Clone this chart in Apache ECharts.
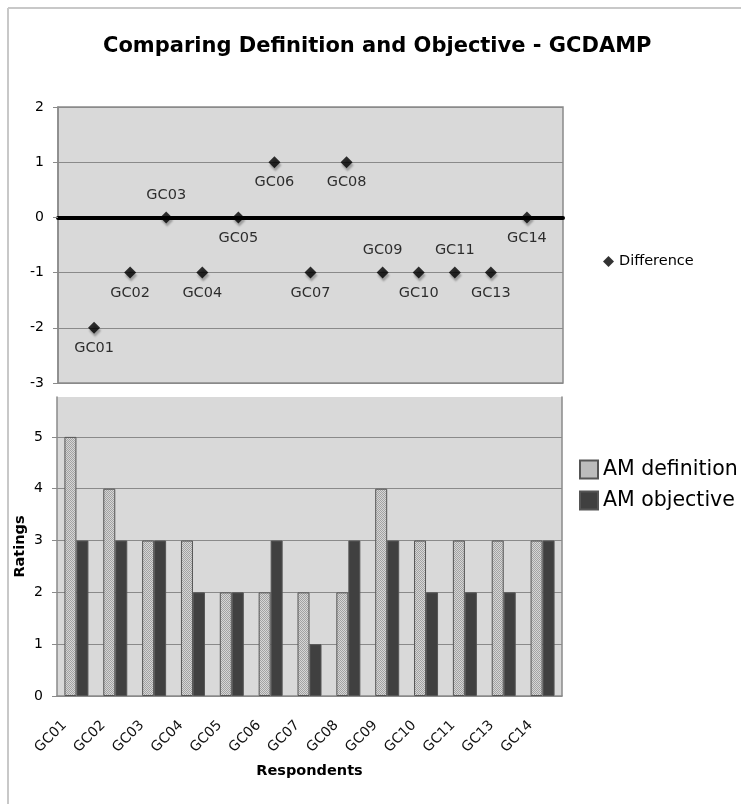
<!DOCTYPE html>
<html><head><meta charset="utf-8">
<script src="https://cdn.jsdelivr.net/npm/echarts@6/dist/echarts.min.js"></script>
<style>html,body{margin:0;padding:0;background:#fff}#c{width:741px;height:804px}</style>
</head><body><div id="c"></div>
<script>
const respondents = ['GC01','GC02','GC03','GC04','GC05','GC06','GC07','GC08','GC09','GC10','GC11','GC13','GC14'];
const difference = [-2,-1,0,-1,0,1,-1,1,-1,-1,-1,-1,0];
const amDefinition = [5,4,3,3,2,2,2,2,4,3,3,3,3];
const amObjective = [3,3,3,2,2,3,1,3,3,2,2,2,3];
const diffTicks = [-3,-2,-1,0,1,2];
const ratingTicks = [0,1,2,3,4,5];
const labelSide = ['bottom','bottom','top','bottom','bottom','bottom','bottom','bottom','top','bottom','top','bottom','bottom'];

const FONT = 'DejaVu Sans';
const GRID_BG = '#d9d9d9';
const LINE = '#8a8a8a';

const pc = document.createElement('canvas'); pc.width = 2; pc.height = 2;
const g = pc.getContext('2d');
g.fillStyle = '#d6d6d6'; g.fillRect(0,0,2,2);
g.fillStyle = '#a2a2a2'; g.fillRect(0,0,1,1); g.fillRect(1,1,1,1);
const stipple = {image: pc, repeat: 'repeat'};

const chart = echarts.init(document.getElementById('c'), null, {renderer: 'canvas'});
chart.setOption({
  backgroundColor: '#fff',
  animation: false,
  textStyle: {fontFamily: FONT, color: '#000'},
  title: {
    text: 'Comparing Definition and Objective - GCDAMP',
    left: 98, top: 31,
    textStyle: {fontFamily: FONT, fontWeight: 'bold', fontSize: 21, color: '#000'}
  },
  graphic: [{
    type: 'line', silent: true, z: -1,
    shape: {x1: 8, y1: 8, x2: 741, y2: 8},
    style: {stroke: '#c8c8c8', lineWidth: 2}
  }, {
    type: 'line', silent: true, z: -1,
    shape: {x1: 8, y1: 8, x2: 8, y2: 804},
    style: {stroke: '#c8c8c8', lineWidth: 2}
  }],
  legend: [{
    data: ['Difference'],
    left: 598, top: 249,
    icon: 'diamond', itemWidth: 11, itemHeight: 11,
    textStyle: {fontFamily: FONT, fontSize: 14.5, color: '#000'}
  }, {
    data: ['AM definition', 'AM objective'],
    orient: 'vertical',
    left: 574, top: 454,
    icon: 'rect',
    itemWidth: 18, itemHeight: 18, itemGap: 10,
    textStyle: {fontFamily: FONT, fontSize: 20.5, color: '#000'}
  }],
  grid: [
    {left: 58, top: 107, width: 505, height: 276, show: true, backgroundColor: GRID_BG, borderColor: LINE, borderWidth: 1.5},
    {left: 57, top: 397, width: 505, height: 299, show: true, backgroundColor: GRID_BG, borderWidth: 0}
  ],
  xAxis: [{
    type: 'value', gridIndex: 0, min: 0, max: 14,
    axisLine: {show: true, onZero: true, lineStyle: {color: '#000', width: 4}},
    axisTick: {show: false}, axisLabel: {show: false}, splitLine: {show: false}
  }, {
    type: 'category', gridIndex: 1, data: respondents, boundaryGap: true,
    axisLine: {lineStyle: {color: LINE, width: 1.5}},
    axisTick: {length: 5, lineStyle: {color: LINE}},
    axisLabel: {rotate: 45, fontSize: 14, color: '#111', margin: 15, padding: [0, 17, 0, 0], fontFamily: FONT, interval: 0},
    name: 'Respondents', nameLocation: 'middle', nameGap: 68, nameMoveOverlap: false,
    nameTextStyle: {fontFamily: FONT, fontWeight: 'bold', fontSize: 14.5, color: '#000'}
  }],
  yAxis: [{
    type: 'value', gridIndex: 0, min: -3, max: 2, interval: 1,
    axisLine: {show: true, lineStyle: {color: LINE, width: 1.5}},
    axisTick: {show: true, length: 5, lineStyle: {color: LINE}},
    axisLabel: {fontSize: 14, color: '#000', margin: 14, fontFamily: FONT},
    splitLine: {show: true, lineStyle: {color: LINE, width: 1}}
  }, {
    type: 'value', gridIndex: 1, min: 0, max: 5.77, interval: 1,
    axisLine: {show: true, lineStyle: {color: LINE, width: 1.5}},
    axisTick: {show: true, length: 5, lineStyle: {color: LINE}, customValues: ratingTicks},
    axisLabel: {fontSize: 14, color: '#000', margin: 14, fontFamily: FONT, customValues: ratingTicks},
    splitLine: {show: true, lineStyle: {color: LINE, width: 1}},
    name: 'Ratings', nameLocation: 'middle', nameGap: 29, nameRotate: 90, nameMoveOverlap: false,
    nameTextStyle: {fontFamily: FONT, fontWeight: 'bold', fontSize: 14.5, color: '#000'}
  }, {
    type: 'value', gridIndex: 1, min: 0, max: 5.77, position: 'right',
    axisLine: {show: true, lineStyle: {color: LINE, width: 1.5}},
    axisTick: {show: false}, axisLabel: {show: false}, splitLine: {show: false}
  }],
  series: [{
    name: 'Difference', type: 'scatter', xAxisIndex: 0, yAxisIndex: 0,
    symbol: 'diamond', symbolSize: 12,
    itemStyle: {color: '#000', shadowColor: 'rgba(0,0,0,0.35)', shadowOffsetX: 1, shadowOffsetY: 3, shadowBlur: 2},
    data: difference.map((v, i) => ({
      value: [i + 1, v],
      label: {show: true, position: labelSide[i], distance: labelSide[i] === 'top' ? 9 : 7, formatter: respondents[i]}
    })),
    label: {fontFamily: FONT, fontSize: 14.5, color: '#000'}
  }, {
    name: 'AM definition', type: 'bar', xAxisIndex: 1, yAxisIndex: 1,
    barWidth: 12, barGap: '0%',
    itemStyle: {color: stipple, borderColor: '#555', borderWidth: 1},
    data: amDefinition
  }, {
    name: 'AM objective', type: 'bar', xAxisIndex: 1, yAxisIndex: 1,
    barWidth: 12, barGap: '0%',
    itemStyle: {color: '#404040', borderColor: '#555', borderWidth: 1},
    data: amObjective
  }]
});
</script></body></html>
